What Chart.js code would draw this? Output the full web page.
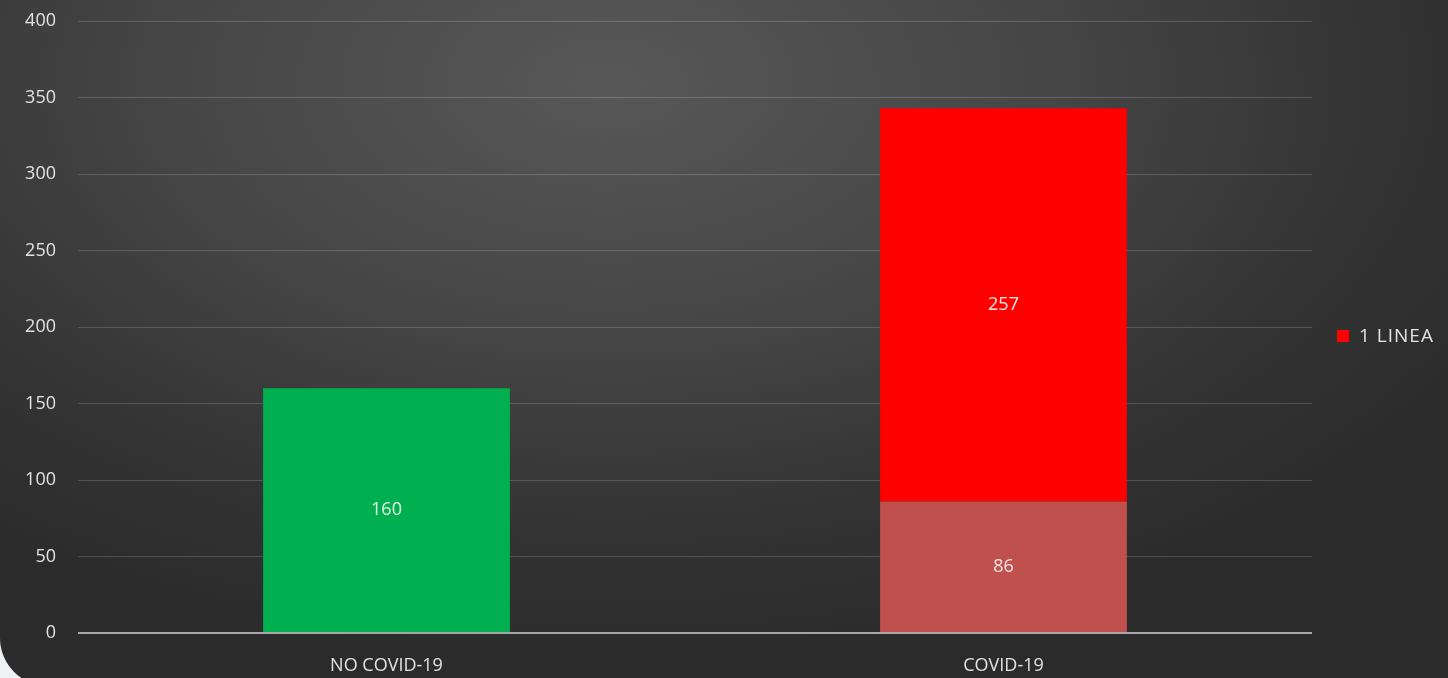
<!DOCTYPE html>
<html>
<head>
<meta charset="utf-8">
<script src="https://cdn.jsdelivr.net/npm/chart.js@4/dist/chart.umd.min.js"></script>
<style>
    html, body { margin: 0; padding: 0; background: #eef2f2; overflow: hidden; }
    #frame {
        position: relative;
        width: 1448px;
        height: 686px;
        border-bottom-left-radius: 48px;
        overflow: hidden;
        background: radial-gradient(ellipse 70% 85% at 42% 12%, #585858 0%, #454545 45%, #343434 75%, #2b2b2b 100%);
    }
</style>
</head>
<body>
<div id="frame"><canvas id="chart" width="1448" height="678"></canvas></div>
<script>
const categories = ['NO COVID-19', 'COVID-19'];
const noCovidValues = [160, null];
const covidBaseValues = [null, 86];
const lineaValues = [null, 257];
const yTicks = [0, 50, 100, 150, 200, 250, 300, 350, 400];

const FONT = '"Open Sans", Lato, sans-serif';
const TEXT = '#e2e2e2';

const valueLabels = {
    id: 'valueLabels',
    afterDatasetsDraw(chart) {
        const { ctx } = chart;
        ctx.save();
        ctx.font = '18px ' + FONT;
        ctx.textAlign = 'center';
        ctx.textBaseline = 'middle';
        chart.data.datasets.forEach((ds, i) => {
            chart.getDatasetMeta(i).data.forEach((bar, j) => {
                const v = ds.data[j];
                if (v == null) return;
                ctx.fillStyle = ds.labelColor;
                ctx.fillText(String(v), bar.x, (bar.y + bar.base) / 2);
            });
        });
        ctx.restore();
    }
};

const sideLegend = {
    id: 'sideLegend',
    afterDraw(chart) {
        const { ctx, chartArea } = chart;
        const ds = chart.data.datasets[2];
        const x = chartArea.right + 25;
        const y = 336;
        ctx.save();
        ctx.fillStyle = ds.backgroundColor;
        ctx.fillRect(x, y - 6, 12, 12);
        ctx.font = '19px ' + FONT;
        ctx.letterSpacing = '1px';
        ctx.fillStyle = TEXT;
        ctx.textBaseline = 'middle';
        ctx.fillText(ds.label, x + 22, y + 1);
        ctx.restore();
    }
};

new Chart(document.getElementById('chart'), {
    type: 'bar',
    data: {
        labels: categories,
        datasets: [
            { label: 'NO COVID-19', data: noCovidValues, backgroundColor: '#00B050', labelColor: '#e3f3e6' },
            { label: 'COVID-19', data: covidBaseValues, backgroundColor: '#C0504D', labelColor: '#f3e3e2' },
            { label: '1 LINEA', data: lineaValues, backgroundColor: '#FF0000', labelColor: '#fbeaea' }
        ]
    },
    options: {
        responsive: false,
        animation: false,
        layout: { padding: { top: 21, right: 136, bottom: 0, left: 0 } },
        plugins: {
            legend: { display: false },
            tooltip: { enabled: false }
        },
        datasets: {
            bar: { barPercentage: 0.4, categoryPercentage: 1.0 }
        },
        scales: {
            x: {
                stacked: true,
                grid: { display: false },
                border: { display: false },
                ticks: { color: TEXT, font: { family: FONT, size: 18 }, padding: 14 },
                afterFit: (s) => { s.height = 45; s.paddingLeft = 0; s.paddingRight = 0; }
            },
            y: {
                stacked: true,
                min: 0,
                max: 400,
                afterBuildTicks: (s) => { s.ticks = yTicks.map(v => ({ value: v })); },
                border: { display: false },
                grid: {
                    drawTicks: false,
                    color: (c) => c.tick && c.tick.value === 0 ? '#a6a6a6' : 'rgba(255,255,255,0.17)',
                    lineWidth: (c) => c.tick && c.tick.value === 0 ? 2 : 1
                },
                ticks: { color: TEXT, font: { family: FONT, size: 18 }, padding: 22 },
                afterFit: (s) => { s.width = 78; s.paddingTop = 0; s.paddingBottom = 0; }
            }
        }
    },
    plugins: [valueLabels, sideLegend]
});
</script>
</body>
</html>
